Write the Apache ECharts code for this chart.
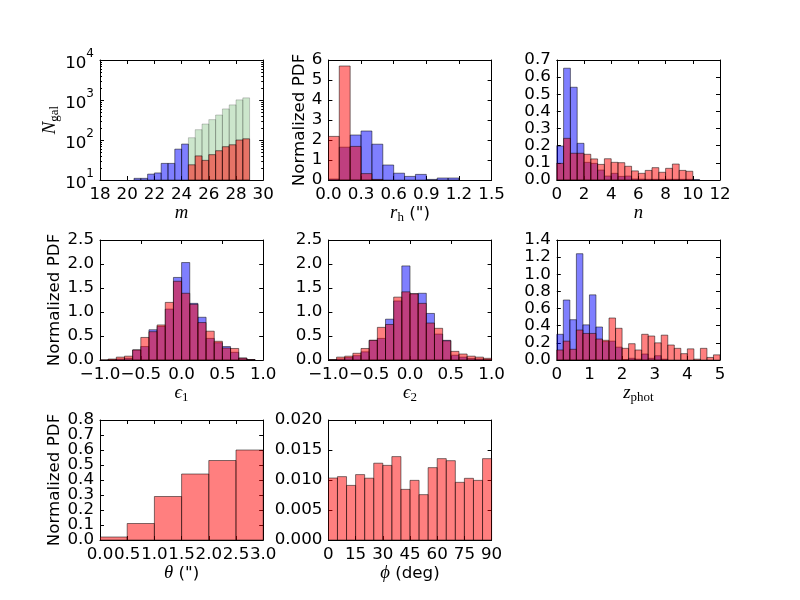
<!DOCTYPE html>
<html>
<head>
<meta charset="utf-8">
<script src="https://cdn.jsdelivr.net/npm/echarts@6/dist/echarts.min.js"></script>
<style>
  html, body { margin: 0; background: #fff; }
  #chart { width: 800px; height: 600px; }
</style>
</head>
<body>
<div id="chart"></div>
<script>
// histogram values (bin start, bin width, heights)
var magBrightStart = 20.5, magFaintStart = 24.5, magWidth = 0.5;
var magBright = [11, 11, 14, 15, 26, 26, 59, 79];
var magFaintAll = [114, 181, 251, 323, 422, 598, 755, 1007, 1132];
var magFaintSel = [24, 40, 31, 43, 54, 68, 76, 100, 107];

var rhStart = 0, rhWidth = 0.1;
var rhBright = [0.05, 1.64, 2.25, 2.45, 1.79, 0.75, 0.34, 0.18, 0.28, 0.03, 0.10, 0.10];
var rhFaint = [2.18, 5.70, 1.68, 0.32, 0.03];

var sersicStart = 0, sersicWidth = 0.5;
var sersicBright = [0.198, 0.652, 0.541, 0.214, 0.103, 0.097, 0.058, 0.023, 0.039, 0.021, 0.023, 0.006,
  0.005, 0.004, 0.004, 0.004, 0.004, 0.004, 0.004, 0.004, 0.003];
var sersicFaint = [0.097, 0.243, 0.156, 0.156, 0.150, 0.123, 0.091, 0.124, 0.103, 0.101, 0.080, 0.053,
  0.039, 0.056, 0.072, 0.045, 0.068, 0.093, 0.056, 0.051];

var eStart = -1, eWidth = 0.1;
var e1Bright = [0, 0.005, 0.02, 0.035, 0.21, 0.28, 0.63, 0.70, 1.06, 1.72, 2.03, 1.18, 0.89, 0.45, 0.36, 0.28, 0.16, 0.04, 0.01, 0];
var e1Faint = [0.005, 0.02, 0.06, 0.08, 0.21, 0.47, 0.59, 0.73, 1.20, 1.64, 1.39, 1.16, 0.78, 0.60, 0.39, 0.25, 0.24, 0.04, 0.01, 0];
var e2Bright = [0.005, 0.02, 0.05, 0.09, 0.17, 0.41, 0.45, 0.85, 1.23, 1.96, 1.38, 1.39, 0.97, 0.54, 0.41, 0.10, 0.06, 0.03, 0.02, 0.01];
var e2Faint = [0.01, 0.06, 0.08, 0.14, 0.24, 0.41, 0.68, 0.74, 1.31, 1.42, 1.38, 1.18, 0.77, 0.66, 0.40, 0.18, 0.125, 0.08, 0.06, 0.035];

var zStart = 0, zWidth = 0.2;
var zBright = [0.30, 0.70, 0.47, 1.24, 0.41, 0.76, 0.385, 0.215, 0.22, 0.15, 0.005, 0.02, 0.01, 0.07, 0.02, 0.05, 0.01];
var zFaint = [0.117, 0.22, 0.125, 0.35, 0.31, 0.31, 0.245, 0.23, 0.49, 0.37, 0.136, 0.19, 0.117, 0.30, 0.28,
  0.20, 0.29, 0.175, 0.136, 0.074, 0.13, 0.01, 0.136, 0.03, 0.06];

var thetaStart = 0, thetaWidth = 0.5;
var thetaFaint = [0.02, 0.11, 0.29, 0.44, 0.53, 0.60];

var phiStart = 0, phiWidth = 5;
var phiFaint = [0.01033, 0.01056, 0.0091, 0.0109, 0.0103, 0.0128, 0.01244, 0.0139, 0.00844, 0.00994,
  0.00756, 0.01206, 0.01356, 0.01322, 0.00961, 0.01028, 0.00994, 0.01356];

var BLUE = 'rgba(0,0,255,0.5)', RED = 'rgba(255,0,0,0.5)', GREEN = 'rgba(0,128,0,0.2)';
var FONT = 'DejaVu Sans', SERIF = 'Liberation Serif';
var FS = 16.7;

var colLeft = [100, 328.4, 556.8], rowTop = [60, 240, 420];
var panelW = 163.2, panelH = 120;

function binData(start, width, values) {
  var out = [];
  values.forEach(function (v, i) {
    if (v > 0) out.push([start + i * width, start + (i + 1) * width, v]);
  });
  return out;
}

function fmt(d) {
  return function (v) { return v.toFixed(d).replace('-', '\u2212'); };
}
// every other label, for axes whose labels are packed tight (parity 0 = even steps, 1 = odd steps)
function fmtEvery(d, step, parity) {
  return function (v) {
    return Math.round(v / step) % 2 === parity ? v.toFixed(d) : '';
  };
}

var tickText = { fontFamily: FONT, fontSize: FS, color: '#000' };

var mathRich = {
  n: { fontFamily: FONT, fontSize: FS, color: '#000' },
  it: { fontFamily: SERIF, fontStyle: 'italic', fontSize: FS + 2, color: '#000' },
  sub: { fontFamily: SERIF, fontSize: 13, color: '#000', padding: [9, 0, 0, 0] }
};

var supRich = {
  b: { fontFamily: FONT, fontSize: FS, color: '#000', verticalAlign: 'bottom', lineHeight: 24 },
  sup: { fontFamily: FONT, fontSize: 12, color: '#000', verticalAlign: 'top', lineHeight: 24 }
};

var panels = [
  { x: { min: 18, max: 30, interval: 2, f: fmt(0), name: '{it|m}', gap: 20 },
    y: { log: true, min: 10, max: 10000, name: '{it|N}{sub|gal}', gap: 36 },
    series: [[binData(magBrightStart, magWidth, magBright), BLUE, 'rgba(0,0,0,0.5)'],
             [binData(magFaintStart, magWidth, magFaintAll), GREEN, 'rgba(0,0,0,0.2)'],
             [binData(magFaintStart, magWidth, magFaintSel), RED, 'rgba(0,0,0,0.5)']] },
  { x: { min: 0, max: 1.5, interval: 0.3, f: fmt(1), name: '{it|r}{sub|h}{n| (")}', gap: 20 },
    y: { min: 0, max: 6, interval: 1, f: fmt(0), name: 'Normalized PDF', gap: 16 },
    series: [[binData(rhStart, rhWidth, rhBright), BLUE], [binData(rhStart, rhWidth, rhFaint), RED]] },
  { x: { min: 0, max: 12, interval: 2, f: fmt(0), name: '{it|n}', gap: 20 },
    y: { min: 0, max: 0.7, interval: 0.1, f: fmt(1), split: 1 },
    series: [[binData(sersicStart, sersicWidth, sersicBright), BLUE], [binData(sersicStart, sersicWidth, sersicFaint), RED]] },
  { x: { min: -1, max: 1, interval: 0.5, f: fmt(1), name: '{it|\u03f5}{sub|1}', gap: 20 },
    y: { min: 0, max: 2.5, interval: 0.5, f: fmt(1), name: 'Normalized PDF', gap: 33 },
    series: [[binData(eStart, eWidth, e1Bright), BLUE], [binData(eStart, eWidth, e1Faint), RED]] },
  { x: { min: -1, max: 1, interval: 0.5, f: fmt(1), name: '{it|\u03f5}{sub|2}', gap: 20 },
    y: { min: 0, max: 2.5, interval: 0.5, f: fmt(1) },
    series: [[binData(eStart, eWidth, e2Bright), BLUE], [binData(eStart, eWidth, e2Faint), RED]] },
  { x: { min: 0, max: 5, interval: 1, f: fmt(0), name: '{it|z}{sub|phot}', gap: 20 },
    y: { min: 0, max: 1.4, interval: 0.2, f: fmt(1) },
    series: [[binData(zStart, zWidth, zBright), BLUE], [binData(zStart, zWidth, zFaint), RED]] },
  { x: { min: 0, max: 3, interval: 0.5, f: fmt(1), name: '{it|\u03b8}{n| (")}', gap: 20 },
    y: { min: 0, max: 0.8, interval: 0.1, f: fmt(1), split: 1, name: 'Normalized PDF', gap: 33 },
    series: [[binData(thetaStart, thetaWidth, thetaFaint), RED]] },
  { x: { min: 0, max: 90, interval: 15, f: fmt(0), name: '{it|\u03d5}{n| (deg)}', gap: 20 },
    y: { min: 0, max: 0.02, interval: 0.005, f: fmt(3) },
    series: [[binData(phiStart, phiWidth, phiFaint), RED]] }
];

function histItem(fill, stroke, base) {
  return function (params, api) {
    var p0 = api.coord([api.value(0), api.value(2)]);
    var p1 = api.coord([api.value(1), base]);
    return {
      type: 'rect',
      shape: { x: p0[0], y: p0[1], width: p1[0] - p0[0], height: p1[1] - p0[1] },
      style: { fill: fill, stroke: stroke, lineWidth: 1 }
    };
  };
}

var grids = [], xAxes = [], yAxes = [], extraY = [], series = [];
var lineStyle = { color: '#000', width: 1 };
var axisLine = { show: true, onZero: false, lineStyle: lineStyle };

panels.forEach(function (p, i) {
  var col = i % 3, row = Math.floor(i / 3);
  grids.push({ left: colLeft[col], top: rowTop[row], width: panelW, height: panelH, containLabel: false });

  var xBase = {
    type: 'value', gridIndex: i, min: p.x.min, max: p.x.max, interval: p.x.interval,
    axisLine: axisLine,
    axisTick: { show: true, inside: true, length: 4, lineStyle: lineStyle },
    splitLine: { show: false }
  };
  xAxes.push(Object.assign({}, xBase, {
    position: 'bottom',
    axisLabel: Object.assign({ show: true, formatter: p.x.f, margin: 6,
                 showMinLabel: true, showMaxLabel: true, hideOverlap: false }, tickText),
    name: p.x.name, nameLocation: 'middle', nameGap: p.x.gap,
    nameTextStyle: { rich: mathRich, fontFamily: FONT, fontSize: FS, color: '#000' }
  }));
  xAxes.push(Object.assign({}, xBase, { position: 'top', axisLabel: { show: false } }));

  var yBase;
  if (p.y.log) {
    yBase = {
      type: 'log', logBase: 10, gridIndex: i, min: p.y.min, max: p.y.max,
      axisLine: axisLine,
      axisTick: { show: true, inside: true, length: 4, lineStyle: lineStyle },
      minorTick: { show: true, splitNumber: 9, length: 2, lineStyle: lineStyle },
      splitLine: { show: false }
    };
  } else {
    yBase = {
      type: 'value', gridIndex: i, min: p.y.min, max: p.y.max, interval: p.y.interval,
      axisLine: axisLine,
      axisTick: { show: true, inside: true, length: 4, lineStyle: lineStyle },
      splitLine: { show: false }
    };
  }
  var yLabel;
  if (p.y.log) {
    yLabel = {
      show: true, margin: 6, showMinLabel: true, showMaxLabel: true,
      formatter: function (v) { return '{b|10}{sup|' + Math.round(Math.log10(v)) + '}'; },
      rich: supRich
    };
  } else {
    var d = p.y.interval < 0.01 ? 3 : (p.y.interval < 1 ? 1 : 0);
    yLabel = Object.assign({
      show: true, margin: 6, showMinLabel: true, showMaxLabel: true, hideOverlap: false,
      formatter: p.y.split ? fmtEvery(d, p.y.interval, 0) : p.y.f
    }, tickText);
    if (p.y.split) {
      // second label-only axis carrying the odd labels
      extraY.push(Object.assign({}, yBase, {
        position: 'left',
        axisLine: { show: false, onZero: false }, axisTick: { show: false },
        axisLabel: Object.assign({
          show: true, margin: 6, showMinLabel: true, showMaxLabel: true, hideOverlap: false,
          formatter: fmtEvery(d, p.y.interval, 1)
        }, tickText)
      }));
    }
  }
  var left = Object.assign({}, yBase, { position: 'left', axisLabel: yLabel });
  if (p.y.name) {
    left.name = p.y.name;
    left.nameLocation = 'middle';
    left.nameGap = p.y.gap;
    left.nameTextStyle = { rich: mathRich, fontFamily: FONT, fontSize: FS, color: '#000' };
  }
  yAxes.push(left);
  yAxes.push(Object.assign({}, yBase, { position: 'right', axisLabel: { show: false } }));

  var base = p.y.log ? p.y.min : 0;
  p.series.forEach(function (s) {
    series.push({
      type: 'custom', xAxisIndex: i * 2, yAxisIndex: i * 2, clip: true,
      data: s[0], renderItem: histItem(s[1], s[2] || 'rgba(0,0,0,0.5)', base),
      silent: true, animation: false
    });
  });
});

var chart = echarts.init(document.getElementById('chart'));
chart.setOption({
  animation: false,
  backgroundColor: '#fff',
  grid: grids,
  xAxis: xAxes,
  yAxis: yAxes.concat(extraY),
  series: series
});
</script>
</body>
</html>
